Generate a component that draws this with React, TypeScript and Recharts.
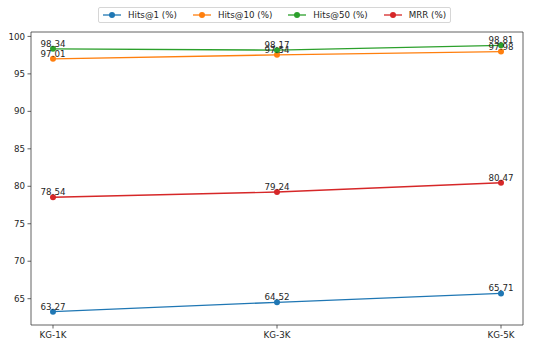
import { LineChart, Line, XAxis, YAxis, LabelList } from 'recharts'

const categories = ['KG-1K', 'KG-3K', 'KG-5K']
const hits1 = [63.27, 64.52, 65.71]
const hits10 = [97.01, 97.54, 97.98]
const hits50 = [98.34, 98.17, 98.81]
const mrr = [78.54, 79.24, 80.47]
const yTicks = [65, 70, 75, 80, 85, 90, 95, 100]

const series = [
  { key: 'hits1', name: 'Hits@1 (%)', color: '#1f77b4' },
  { key: 'hits10', name: 'Hits@10 (%)', color: '#ff7f0e' },
  { key: 'hits50', name: 'Hits@50 (%)', color: '#2ca02c' },
  { key: 'mrr', name: 'MRR (%)', color: '#d62728' },
]

const data = categories.map((c, i) => ({
  name: c,
  hits1: hits1[i],
  hits10: hits10[i],
  hits50: hits50[i],
  mrr: mrr[i],
}))

const FONT = '"DejaVu Sans", sans-serif'
const TEXT = '#262626'
const AXIS = '#3a3a3a'

const ValueLabel = (props: any) => {
  const { x, y, value } = props
  return (
    <text x={x} y={y - 2} textAnchor="middle" fontSize={8.7} fontFamily={FONT} fill={TEXT}>
      {Number(value).toFixed(2)}
    </text>
  )
}

function LegendBox() {
  return (
    <div
      style={{
        position: 'absolute',
        left: 98,
        top: 7,
        height: 16,
        display: 'flex',
        alignItems: 'center',
        padding: '0 4px',
        border: '1px solid #d6d6d6',
        borderRadius: 2,
        boxSizing: 'border-box',
        background: '#fff',
        fontFamily: FONT,
        fontSize: 8.7,
        color: TEXT,
        whiteSpace: 'nowrap',
      }}
    >
      {series.map((s, i) => (
        <div key={s.key} style={{ display: 'flex', alignItems: 'center', marginLeft: i ? 16 : 0 }}>
          <svg width={18} height={8} style={{ marginRight: 7 }}>
            <line x1={0} y1={4} x2={18} y2={4} stroke={s.color} strokeWidth={1.3} />
            <circle cx={9} cy={4} r={3} fill={s.color} />
          </svg>
          <span>{s.name}</span>
        </div>
      ))}
    </div>
  )
}

export default function App() {
  return (
    <div style={{ position: 'absolute', left: 0, top: 0, width: 548, height: 347, background: '#fff' }}>
      <LineChart
        width={548}
        height={347}
        data={data}
        margin={{ top: 31, right: 24, left: 0, bottom: 0 }}
      >
        <XAxis
          dataKey="name"
          height={22}
          padding={{ left: 22, right: 22 }}
          tick={{ fill: TEXT, fontSize: 8.7, fontFamily: FONT }}
          tickSize={3.5}
          tickMargin={3}
          axisLine={{ stroke: AXIS, strokeWidth: 0.8 }}
          tickLine={{ stroke: AXIS, strokeWidth: 0.8 }}
        />
        <XAxis
          xAxisId="top"
          dataKey="name"
          orientation="top"
          height={1}
          tick={false}
          tickLine={false}
          axisLine={{ stroke: AXIS, strokeWidth: 0.8 }}
        />
        <YAxis
          type="number"
          width={31}
          domain={[61.49, 100.59]}
          ticks={yTicks}
          allowDataOverflow
          tick={{ fill: TEXT, fontSize: 8.7, fontFamily: FONT }}
          tickSize={3.5}
          tickMargin={2.5}
          axisLine={{ stroke: AXIS, strokeWidth: 0.8 }}
          tickLine={{ stroke: AXIS, strokeWidth: 0.8 }}
        />
        <YAxis
          yAxisId="right"
          orientation="right"
          type="number"
          width={1}
          domain={[61.49, 100.59]}
          tick={false}
          tickLine={false}
          axisLine={{ stroke: AXIS, strokeWidth: 0.8 }}
        />
        {series.map((s) => (
          <Line
            key={s.key}
            dataKey={s.key}
            name={s.name}
            stroke={s.color}
            strokeWidth={1.3}
            dot={{ r: 3, fill: s.color, stroke: 'none' }}
            activeDot={false}
            isAnimationActive={false}
          >
            <LabelList dataKey={s.key} content={<ValueLabel />} />
          </Line>
        ))}
      </LineChart>
      <LegendBox />
    </div>
  )
}
